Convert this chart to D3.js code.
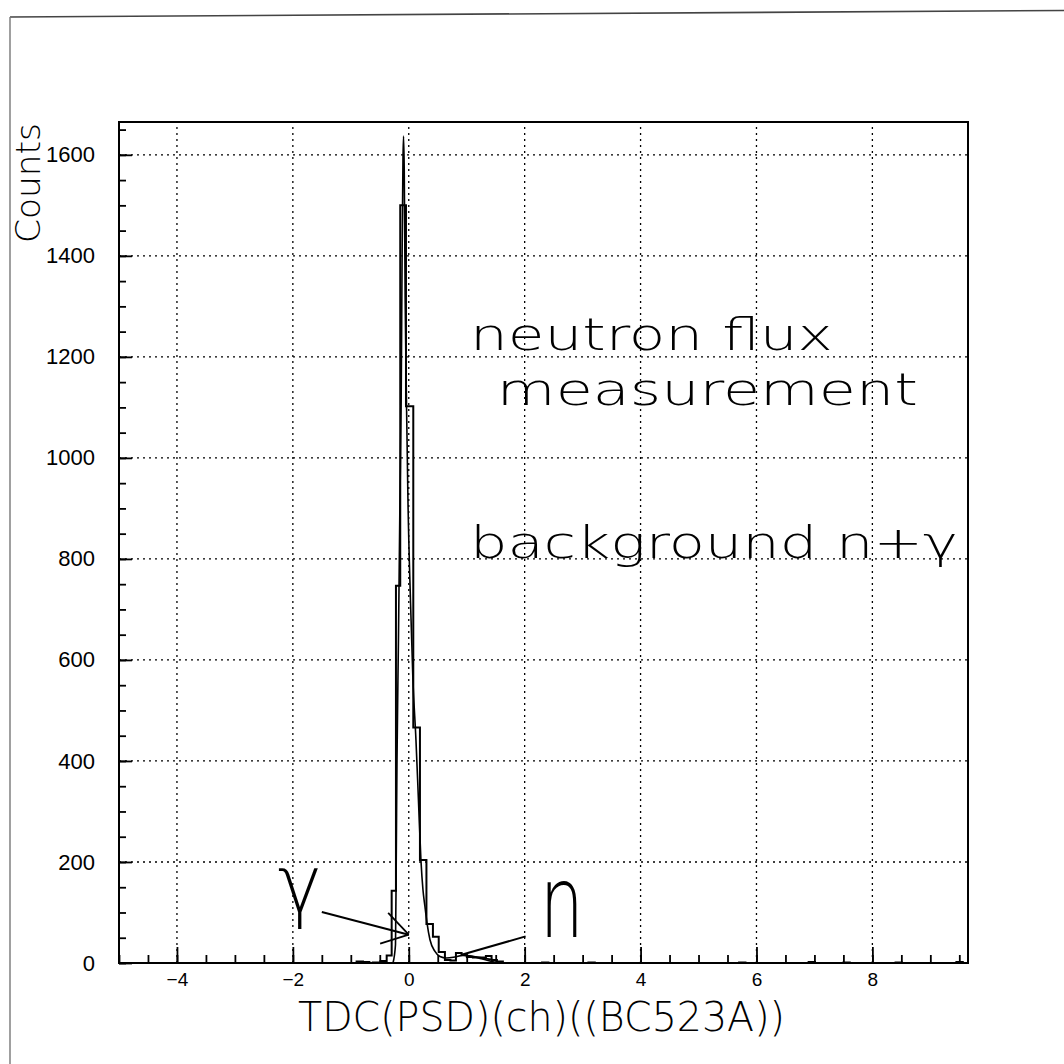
<!DOCTYPE html>
<html>
<head>
<meta charset="utf-8">
<script src="https://cdn.jsdelivr.net/npm/d3@7"></script>
<style>
  html, body { margin: 0; padding: 0; background: #fff; }
  svg { display: block; }
</style>
</head>
<body>
<svg id="chart" width="1064" height="1064"></svg>
<script>
// ---------------- DATA ----------------
// histogram (TDC PSD) – contiguous bins around the peak
const binEdges  = [-0.488,-0.381,-0.295,-0.221,-0.147,-0.048,0.078,0.193,0.305,0.417,0.517,0.624,0.719,0.814,0.912,1.003,1.107,1.219,1.331,1.429,1.521,1.624];
const binCounts = [4,15,143,747,1500,1102,466,204,77,52,22,6,5,20,16,12,11,11,14,6,3];
// a few isolated low-count bins along the baseline
const sparseLo     = [-0.90,-0.79,-0.62,2.30,3.10,5.70,6.90,7.50,8.40,9.45];
const sparseCounts = [3,2,1,1,1,1,2,1,1,2];
const sparseWidth  = 0.11;
// fitted curve (gamma peak + exponential tail + small neutron bump)
const curveX = [-0.272,-0.229,-0.216,-0.203,-0.178,-0.152,-0.131,-0.114,-0.100,-0.090,-0.078,-0.062,-0.040,-0.014,0.029,0.072,0.124,0.167,0.210,0.245,0.279,0.314,0.366,0.452,0.538,0.653,0.797,0.934,1.055,1.228,1.400,1.521];
const curveY = [0,36,204,402,640,917,1115,1411,1590,1637,1570,1313,1115,917,719,560,442,323,204,145,112,80,46,23,13,10,12,15,14,9,4,1];
// axes
const xMajorTicks = [-4,-2,0,2,4,6,8];
const yMajorTicks = [0,200,400,600,800,1000,1200,1400,1600];
const xLabel = "TDC(PSD)(ch)((BC523A))";
const yLabel = "Counts";
// annotations
const textNotes = [
  {text: "neutron flux", x: 1.055, y: 1214, len: 363},
  {text: "measurement", x: 1.52, y: 1105, len: 421},
  {text: "background n+\u03b3", x: 1.055, y: 802, len: 488}
];
const arrows = [
  {tail: [-1.50, 101], tip: [0.0, 56], half: 32, len: 30, sides: [1,-1]},
  {tail: [2.016, 52.7], tip: [0.912, 16.4], half: 25, len: 34, sides: [1]}
];
const handLabels = [
  {text: "\u03b3", x: -2.26, y: 100, size: 80, len: 44},
  {text: "n", x: 2.26, y: 52, size: 100, len: 44}
];

// ---------------- SCALES ----------------
const svg = d3.select("#chart");
const x = d3.scaleLinear().domain([-5, 9.65]).range([119, 968]);
const y = d3.scaleLinear().domain([0, 1665]).range([963, 122]);
const thinFont = "'DejaVu Sans', 'Liberation Sans', sans-serif";

// page border (scanned sheet edge)
svg.append("path").attr("d", "M10,17 L1064,10.5").attr("stroke", "#444").attr("stroke-width", 1.6).attr("fill", "none");
svg.append("path").attr("d", "M10,17 L10,1064").attr("stroke", "#777").attr("stroke-width", 1.4).attr("fill", "none");

// grid
const grid = svg.append("g").attr("stroke", "#000").attr("stroke-width", 1.3).attr("stroke-dasharray", "2,4");
grid.selectAll("line.v").data(xMajorTicks).join("line")
  .attr("x1", d => x(d)).attr("x2", d => x(d)).attr("y1", y(0)).attr("y2", y(1665));
grid.selectAll("line.h").data(yMajorTicks.filter(d => d > 0)).join("line")
  .attr("x1", x(-5)).attr("x2", x(9.65)).attr("y1", d => y(d)).attr("y2", d => y(d));

// axes
const xMinor = d3.range(-5, 9.65, 0.5);
const yMinor = d3.range(0, 1665, 50);
const fmt = d3.format("d");

const gxMinor = svg.append("g").attr("transform", `translate(0,${y(0)})`)
  .call(d3.axisBottom(x).tickValues(xMinor).tickSizeInner(-8).tickSizeOuter(0).tickFormat(""));
const gx = svg.append("g").attr("transform", `translate(0,${y(0)})`)
  .call(d3.axisBottom(x).tickValues(xMajorTicks).tickFormat(fmt).tickSizeInner(-16).tickSizeOuter(0).tickPadding(10));
const gyMinor = svg.append("g").attr("transform", `translate(${x(-5)},0)`)
  .call(d3.axisLeft(y).tickValues(yMinor).tickSizeInner(-7).tickSizeOuter(0).tickFormat(""));
const gy = svg.append("g").attr("transform", `translate(${x(-5)},0)`)
  .call(d3.axisLeft(y).tickValues(yMajorTicks).tickFormat(fmt).tickSizeInner(-13).tickSizeOuter(0).tickPadding(24));

[gxMinor, gx, gyMinor, gy].forEach(g => {
  g.select(".domain").remove();
  g.selectAll(".tick line").attr("stroke", "#000").attr("stroke-width", 1.8);
});
gx.selectAll(".tick text").attr("font-family", "'Liberation Sans', Arial, sans-serif").attr("font-size", 19).attr("fill", "#000");
gy.selectAll(".tick text").attr("font-family", "'Liberation Sans', Arial, sans-serif").attr("font-size", 22).attr("fill", "#000");

// frame
svg.append("rect").attr("x", x(-5)).attr("y", y(1665)).attr("width", x(9.65) - x(-5)).attr("height", y(0) - y(1665))
  .attr("fill", "none").attr("stroke", "#000").attr("stroke-width", 2);

// histogram (step outline)
let hp = d3.path();
hp.moveTo(x(binEdges[0]), y(0));
binCounts.forEach((c, i) => {
  hp.lineTo(x(binEdges[i]), y(c));
  hp.lineTo(x(binEdges[i + 1]), y(c));
});
hp.lineTo(x(binEdges[binEdges.length - 1]), y(0));
sparseLo.forEach((lo, i) => {
  hp.moveTo(x(lo), y(0));
  hp.lineTo(x(lo), y(sparseCounts[i]));
  hp.lineTo(x(lo + sparseWidth), y(sparseCounts[i]));
  hp.lineTo(x(lo + sparseWidth), y(0));
});
svg.append("path").attr("d", hp.toString()).attr("fill", "none").attr("stroke", "#000").attr("stroke-width", 2);

// fitted curve
const line = d3.line().x((d, i) => x(curveX[i])).y(d => y(d)).curve(d3.curveMonotoneX);
svg.append("path").attr("d", line(curveY)).attr("fill", "none").attr("stroke", "#000").attr("stroke-width", 1.6);

// arrows
arrows.forEach(a => {
  const tx = x(a.tip[0]), ty = y(a.tip[1]);
  const sx = x(a.tail[0]), sy = y(a.tail[1]);
  svg.append("line").attr("x1", sx).attr("y1", sy).attr("x2", tx).attr("y2", ty)
    .attr("stroke", "#000").attr("stroke-width", 2);
  const ang = Math.atan2(sy - ty, sx - tx);
  a.sides.forEach(s => {
    const aa = ang + s * a.half * Math.PI / 180;
    svg.append("line").attr("x1", tx).attr("y1", ty)
      .attr("x2", tx + a.len * Math.cos(aa)).attr("y2", ty + a.len * Math.sin(aa))
      .attr("stroke", "#000").attr("stroke-width", 1.8);
  });
});

// hand-written labels
svg.selectAll("text.hand").data(handLabels).join("text").attr("class", "hand")
  .attr("x", d => x(d.x)).attr("y", d => y(d.y))
  .attr("font-family", thinFont).attr("font-weight", 200)
  .attr("font-size", d => d.size).attr("fill", "#000")
  .attr("textLength", d => d.len).attr("lengthAdjust", "spacingAndGlyphs")
  .text(d => d.text);

// annotation texts
svg.selectAll("text.note").data(textNotes).join("text").attr("class", "note")
  .attr("x", d => x(d.x)).attr("y", d => y(d.y))
  .attr("font-family", thinFont).attr("font-weight", 200)
  .attr("font-size", 44).attr("fill", "#000")
  .attr("textLength", d => d.len).attr("lengthAdjust", "spacingAndGlyphs")
  .text(d => d.text);

// axis titles
svg.append("text").attr("x", 298).attr("y", 1031)
  .attr("font-family", thinFont).attr("font-weight", 200)
  .attr("font-size", 40).attr("fill", "#000")
  .attr("textLength", 487).attr("lengthAdjust", "spacingAndGlyphs")
  .text(xLabel);
svg.append("text").attr("transform", "translate(40,243) rotate(-90)")
  .attr("font-family", thinFont).attr("font-weight", 200)
  .attr("font-size", 34).attr("fill", "#000")
  .attr("textLength", 120).attr("lengthAdjust", "spacingAndGlyphs")
  .text(yLabel);
</script>
</body>
</html>
